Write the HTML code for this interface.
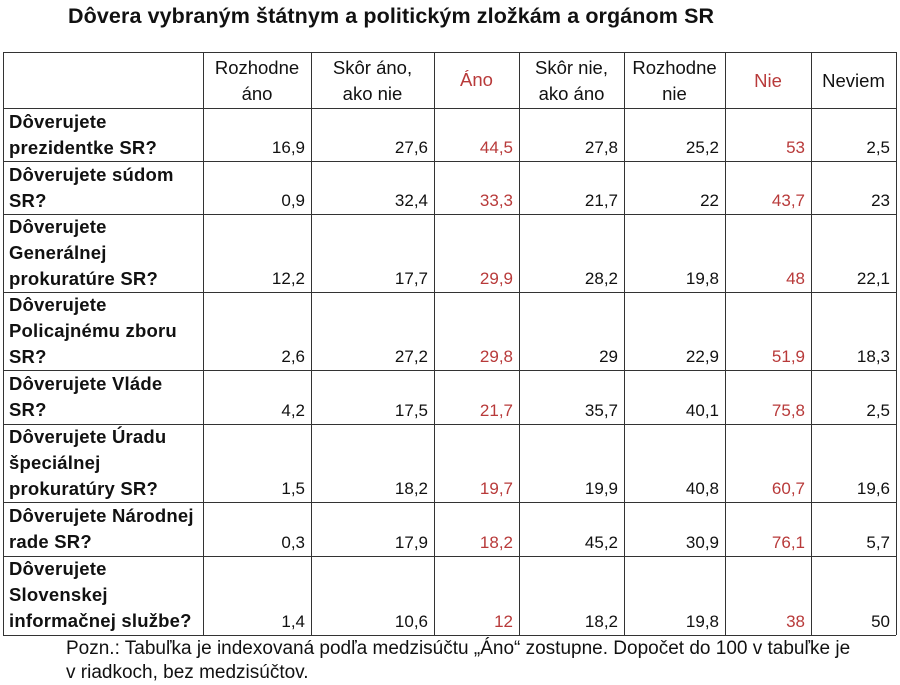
<!DOCTYPE html>
<html><head><meta charset="utf-8"><style>
body{margin:0;width:900px;height:685px;background:#fff;position:relative;overflow:hidden;font-family:"Liberation Sans",sans-serif;color:#111}
.t{position:absolute;left:68px;top:4px;font-size:21.5px;font-weight:bold;letter-spacing:0.1px;white-space:nowrap}
.h{position:absolute;font-size:18.5px;text-align:center;line-height:26px;white-space:nowrap}
.r{position:absolute;left:9px;font-size:18.5px;font-weight:bold;line-height:26px;white-space:nowrap;letter-spacing:0.2px}
.n{position:absolute;font-size:17px;text-align:right;line-height:20px}
.red{color:#b83a3a}
.vl{position:absolute;top:52px;height:583px;width:1px;background:#333}
.hl{position:absolute;left:3px;width:893px;height:1px;background:#333}
.p{position:absolute;left:66px;font-size:19px;line-height:24px;white-space:nowrap}
</style></head><body>
<div class="t">Dôvera vybraným štátnym a politickým zložkám a orgánom SR</div>
<div class="vl" style="left:3px"></div><div class="vl" style="left:203px"></div><div class="vl" style="left:311px"></div><div class="vl" style="left:434px"></div><div class="vl" style="left:519px"></div><div class="vl" style="left:624px"></div><div class="vl" style="left:725px"></div><div class="vl" style="left:811px"></div><div class="vl" style="left:896px"></div>
<div class="hl" style="top:52px"></div><div class="hl" style="top:108px"></div><div class="hl" style="top:161px"></div><div class="hl" style="top:214px"></div><div class="hl" style="top:292px"></div><div class="hl" style="top:370px"></div><div class="hl" style="top:424px"></div><div class="hl" style="top:502px"></div><div class="hl" style="top:556px"></div><div class="hl" style="top:635px"></div>
<div class="h" style="left:203px;width:108px;top:55px">Rozhodne<br>áno</div>
<div class="h" style="left:311px;width:123px;top:55px">Skôr áno,<br>ako nie</div>
<div class="h red" style="left:434px;width:85px;top:67px">Áno</div>
<div class="h" style="left:519px;width:105px;top:55px">Skôr nie,<br>ako áno</div>
<div class="h" style="left:624px;width:101px;top:55px">Rozhodne<br>nie</div>
<div class="h red" style="left:725px;width:86px;top:68px">Nie</div>
<div class="h" style="left:811px;width:85px;top:68px">Neviem</div>
<div class="r" style="top:109px">Dôverujete<br>prezidentke SR?</div>
<div class="r" style="top:162px">Dôverujete súdom<br>SR?</div>
<div class="r" style="top:214px">Dôverujete<br>Generálnej<br>prokuratúre SR?</div>
<div class="r" style="top:292px">Dôverujete<br>Policajnému zboru<br>SR?</div>
<div class="r" style="top:371px">Dôverujete Vláde<br>SR?</div>
<div class="r" style="top:424px">Dôverujete Úradu<br>špeciálnej<br>prokuratúry SR?</div>
<div class="r" style="top:503px">Dôverujete Národnej<br>rade SR?</div>
<div class="r" style="top:556px">Dôverujete<br>Slovenskej<br>informačnej službe?</div>
<div id="nums"></div>
<script>
var rows=[[161,"16,9","27,6","44,5","27,8","25,2","53","2,5"],[214,"0,9","32,4","33,3","21,7","22","43,7","23"],[292,"12,2","17,7","29,9","28,2","19,8","48","22,1"],[370,"2,6","27,2","29,8","29","22,9","51,9","18,3"],[424,"4,2","17,5","21,7","35,7","40,1","75,8","2,5"],[502,"1,5","18,2","19,7","19,9","40,8","60,7","19,6"],[556,"0,3","17,9","18,2","45,2","30,9","76,1","5,7"],[635,"1,4","10,6","12","18,2","19,8","38","50"]];
var rs=[311,434,519,624,725,811,896],h="";
rows.forEach(function(r){for(var i=0;i<7;i++){h+='<div class="n'+((i==2||i==5)?' red':'')+'" style="right:'+(900-rs[i]+6)+'px;top:'+(r[0]-23)+'px">'+r[i+1]+'</div>';}});
document.getElementById("nums").innerHTML=h;
</script>
<div class="p" style="top:637px">Pozn.: Tabuľka je indexovaná podľa medzisúčtu „Áno“ zostupne. Dopočet do 100 v tabuľke je<br>v riadkoch, bez medzisúčtov.</div>
</body></html>
